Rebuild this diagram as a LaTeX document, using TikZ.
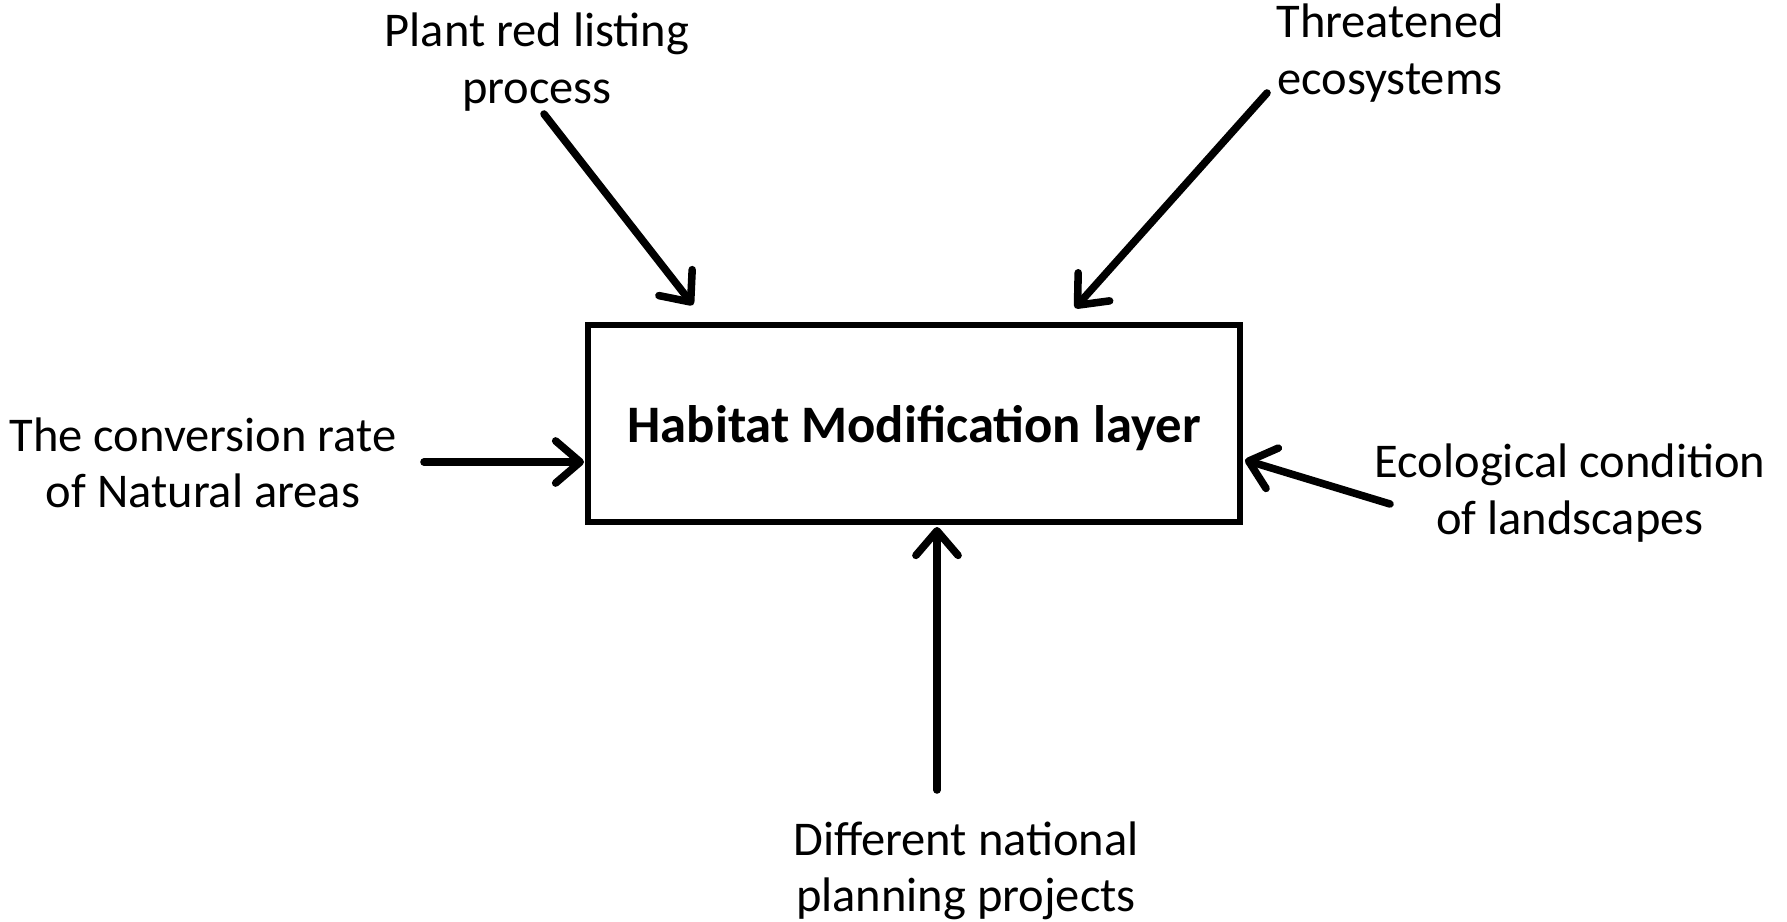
\documentclass[tikz,border=0pt]{standalone}
\usepackage{fontspec}
\setmainfont{Carlito}
\usetikzlibrary{arrows.meta,positioning}

\begin{document}
\begin{tikzpicture}[
    x=0.02cm, y=-0.02cm,
    layer/.style={rectangle, draw, line width=3.3pt, minimum width=13.04cm, minimum height=3.94cm, text depth=0pt, font=\fontsize{30}{36}\selectfont\bfseries},
    factor/.style={align=center, font=\fontsize{27.6}{32}\selectfont},
    arrow/.style={line width=4.3pt, line cap=round, -{Straight Barb[length=14pt, width=24pt, line cap=round, line join=round]}}
]
\useasboundingbox (0,0) rectangle (1787,922);

% Central layer
\node[layer] (hml) at (914,423.5) {Habitat Modification layer};

% Influencing factors
\node[factor] (plant) at (537,62) {Plant red listing\\process};
\node[factor] (threat) at (1390,53) {Threatened\\ecosystems};
\node[factor] (conv) at (203,463) {The conversion rate\\of Natural areas};
\node[factor] (eco) at (1570,493) {Ecological condition\\of landscapes};
\node[factor] (plan) at (966,871) {Different national\\planning projects};

% Arrow ends
\coordinate (plant-a) at (544,114);
\coordinate (plant-b) at (693,305);
\coordinate (threat-a) at (1267,93);
\coordinate (threat-b) at (1075,308);
\coordinate (conv-a) at (424,462);
\coordinate (conv-b) at (584,462);
\coordinate (eco-a) at (1390,504);
\coordinate (eco-b) at (1245,460);
\coordinate (plan-a) at (937,790);
\coordinate (plan-b) at (937,527);

% Connections
\draw[arrow] (plant-a) -- (plant-b);
\draw[arrow] (threat-a) -- (threat-b);
\draw[arrow] (conv-a) -- (conv-b);
\draw[arrow] (eco-a) -- (eco-b);
\draw[arrow] (plan-a) -- (plan-b);

\end{tikzpicture}
\end{document}
